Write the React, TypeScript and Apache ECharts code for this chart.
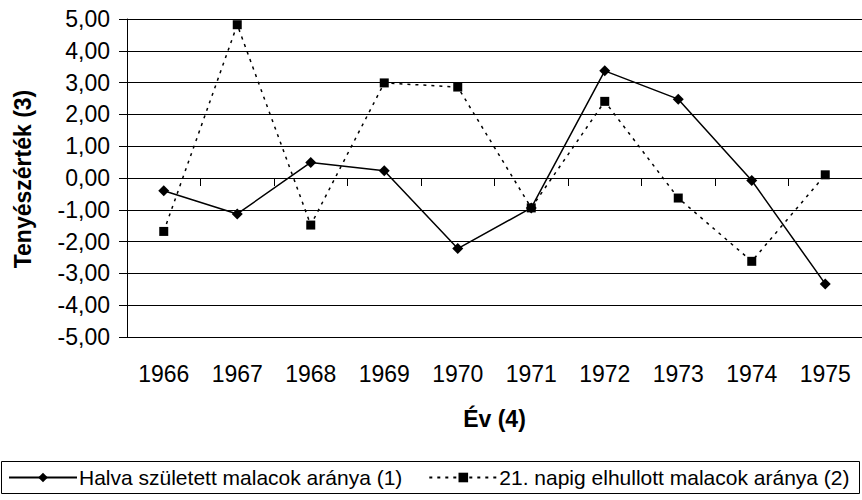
import React, { useEffect, useRef } from "react";
import * as echarts from "echarts";

const years = ["1966", "1967", "1968", "1969", "1970", "1971", "1972", "1973", "1974", "1975"];
const halvaSzuletett = [-0.4, -1.13, 0.49, 0.23, -2.22, -0.94, 3.37, 2.48, -0.08, -3.33];
const elhullott21 = [-1.68, 4.82, -1.48, 2.99, 2.86, -0.94, 2.41, -0.63, -2.62, 0.1];
const seriesNames = ["Halva született malacok aránya (1)", "21. napig elhullott malacok aránya (2)"];
const yAxisTitle = "Tenyészérték (3)";
const xAxisTitle = "Év (4)";

const FONT = "'Liberation Sans', Arial, sans-serif";

export default function App() {
  const ref = useRef<HTMLDivElement>(null);
  useEffect(() => {
    if (!ref.current) return;
    const chart = echarts.init(ref.current, undefined, { renderer: "svg" });
    chart.setOption({
      animation: false,
      backgroundColor: "#ffffff",
      textStyle: { fontFamily: FONT, color: "#000" },
      grid: { left: 127, top: 19, width: 740, height: 318, containLabel: false },
      xAxis: {
        type: "category",
        data: years,
        boundaryGap: true,
        name: xAxisTitle,
        nameLocation: "middle",
        nameGap: 70,
        nameTextStyle: { fontFamily: FONT, fontSize: 23, fontWeight: "bold", color: "#000" },
        axisLine: { lineStyle: { color: "#000", width: 1 } },
        axisTick: { show: true, length: 8, alignWithLabel: false, lineStyle: { color: "#000" } },
        axisLabel: { fontFamily: FONT, fontSize: 23, color: "#000", margin: 25 },
        splitLine: { show: false },
      },
      yAxis: {
        type: "value",
        min: -5,
        max: 5,
        interval: 1,
        axisLine: { show: true, lineStyle: { color: "#000", width: 1 } },
        axisTick: { show: true, length: 8, lineStyle: { color: "#000" } },
        axisLabel: {
          fontFamily: FONT,
          fontSize: 23,
          color: "#000",
          margin: 17,
          formatter: (v: number) => v.toFixed(2).replace(".", ","),
        },
        splitLine: { show: true, lineStyle: { color: "#000", width: 1 } },
      },
      legend: {
        left: 8,
        top: 467,
        itemGap: 26,
        itemWidth: 68,
        itemHeight: 12,
        padding: 0,
        textStyle: { fontFamily: FONT, fontSize: 21, color: "#000", padding: [0, 0, 0, -3] },
        data: seriesNames,
      },
      graphic: [
        {
          type: "rect",
          shape: { x: 1.5, y: 461.5, width: 858, height: 32 },
          style: { fill: "none", stroke: "#000", lineWidth: 1 },
          silent: true,
        },
        {
          type: "text",
          x: 23,
          y: 179,
          rotation: Math.PI / 2,
          style: {
            text: yAxisTitle,
            font: "bold 23px 'Liberation Sans', Arial, sans-serif",
            fill: "#000",
            align: "center",
            verticalAlign: "middle",
          },
          silent: true,
        },
      ],
      series: [
        {
          name: seriesNames[0],
          type: "line",
          data: halvaSzuletett,
          symbol: "diamond",
          symbolSize: 11,
          lineStyle: { color: "#000", width: 1.5, type: "solid" },
          itemStyle: { color: "#000" },
        },
        {
          name: seriesNames[1],
          type: "line",
          data: elhullott21,
          symbol: "rect",
          symbolSize: 9,
          lineStyle: { color: "#000", width: 1.5, type: [3, 5] },
          itemStyle: { color: "#000" },
        },
      ],
    });
    return () => chart.dispose();
  }, []);
  return (
    <div
      ref={ref}
      style={{ position: "fixed", left: 0, top: 0, width: 862, height: 500, background: "#fff" }}
    />
  );
}
